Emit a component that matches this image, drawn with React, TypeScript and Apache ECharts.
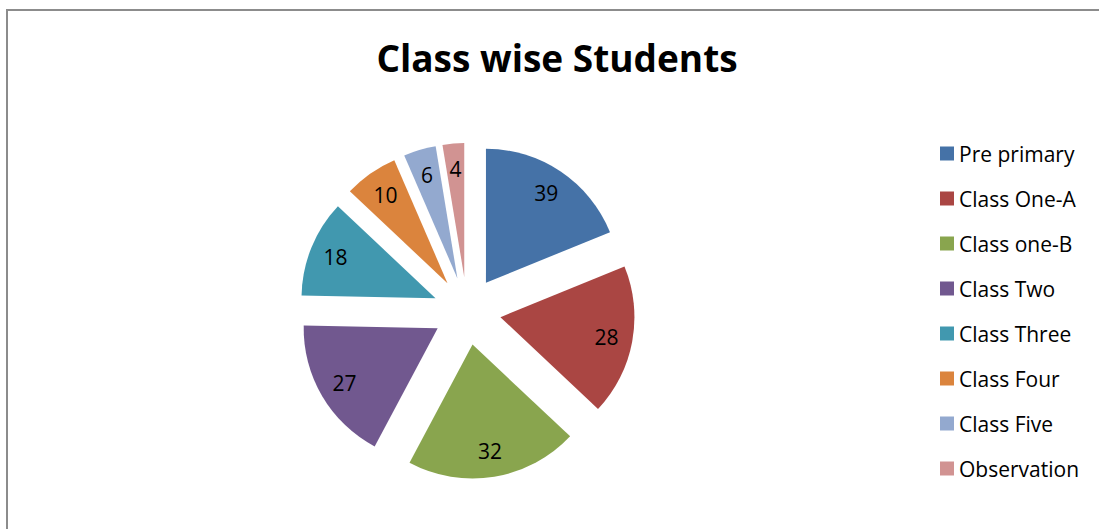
import React, { useEffect, useRef } from "react";
import * as echarts from "echarts";

const categories = [
  "Pre primary",
  "Class One-A",
  "Class one-B",
  "Class Two",
  "Class Three",
  "Class Four",
  "Class Five",
  "Observation",
];
// slice sizes as drawn in the reference (the first slice is drawn smaller than its label)
const values = [29, 28, 32, 27, 18, 10, 6, 4];
// numbers printed on the slices
const dataLabels = [39, 28, 32, 27, 18, 10, 6, 4];
const colors = [
  "#4572A7",
  "#AA4643",
  "#89A54E",
  "#71588F",
  "#4198AF",
  "#DB843D",
  "#93A9CF",
  "#D19392",
];

export default function App() {
  const ref = useRef<HTMLDivElement>(null);
  useEffect(() => {
    document.body.style.margin = "0";
    const chart = echarts.init(ref.current!, null, { renderer: "svg" });
    const center = [467, 311];
    const font = "Open Sans";
    chart.setOption({
      animation: false,
      backgroundColor: "#ffffff",
      title: {
        text: "Class wise Students",
        left: 552,
        top: 34,
        textAlign: "center",
        textStyle: {
          fontFamily: font,
          fontWeight: "bold",
          fontSize: 37,
          color: "#000",
        },
      },
      graphic: [
        {
          type: "rect",
          shape: { x: 7, y: 10, width: 1200, height: 600 },
          style: { fill: "none", stroke: "#8c8c8c", lineWidth: 2 },
          silent: true,
        },
      ],
      legend: {
        orient: "vertical",
        left: 935,
        top: 138,
        itemWidth: 14,
        itemHeight: 14,
        itemGap: 24,
        icon: "rect",
        data: categories,
        textStyle: { fontFamily: font, fontSize: 21, color: "#000" },
        selectedMode: false,
      },
      series: [
        {
          type: "pie",
          center,
          radius: 134,
          startAngle: 90,
          clockwise: true,
          selectedMode: "multiple",
          selectedOffset: 34,
          silent: true,
          label: { show: false },
          labelLine: { show: false },
          emphasis: { disabled: true },
          data: categories.map((name, i) => ({
            name,
            value: values[i],
            selected: true,
            itemStyle: { color: colors[i] },
          })),
        },
        {
          type: "pie",
          center,
          radius: [76, 134],
          startAngle: 90,
          clockwise: true,
          selectedMode: "multiple",
          selectedOffset: 34,
          silent: true,
          itemStyle: { color: "rgba(0,0,0,0)" },
          label: {
            show: true,
            position: "inside",
            formatter: (p: any) => String(dataLabels[p.dataIndex]),
            fontFamily: font,
            fontSize: 21,
            color: "#000",
          },
          labelLine: { show: false },
          emphasis: { disabled: true },
          data: categories.map((name, i) => ({
            name,
            value: values[i],
            selected: true,
          })),
        },
      ],
    });
    return () => chart.dispose();
  }, []);
  return <div ref={ref} style={{ width: 1099, height: 529 }} />;
}
